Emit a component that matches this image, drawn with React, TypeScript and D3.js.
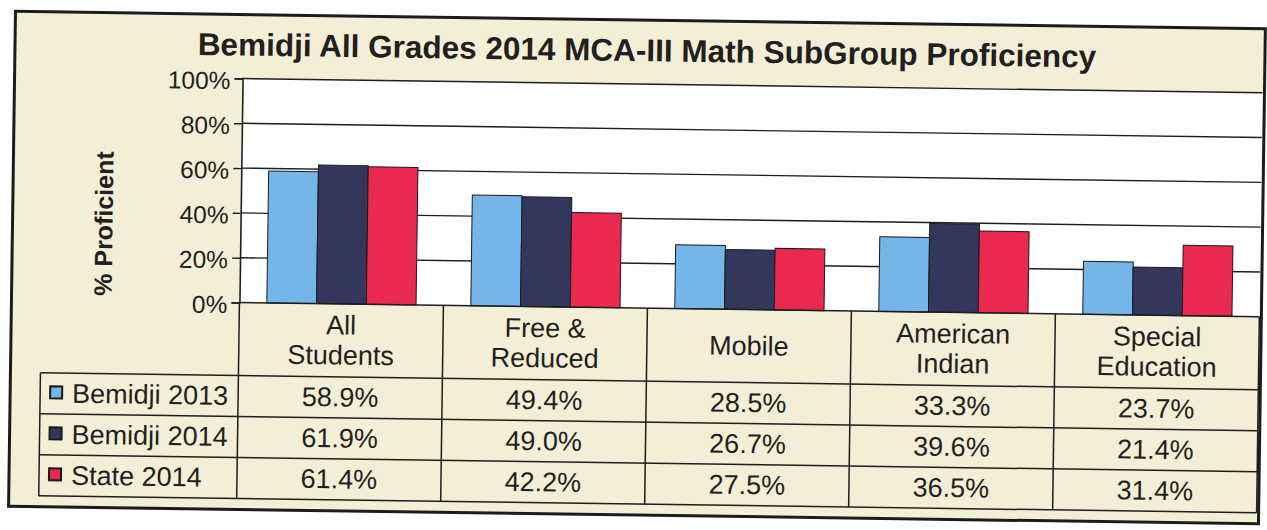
import React, { useEffect, useRef } from 'react';
import * as d3 from 'd3';

const CATEGORIES = [['All', 'Students'], ['Free &', 'Reduced'], ['Mobile'], ['American', 'Indian'], ['Special', 'Education']];
const SERIES = ['Bemidji 2013', 'Bemidji 2014', 'State 2014'];
const BEMIDJI_2013 = [58.9, 49.4, 28.5, 33.3, 23.7];
const BEMIDJI_2014 = [61.9, 49.0, 26.7, 39.6, 21.4];
const STATE_2014 = [61.4, 42.2, 27.5, 36.5, 31.4];
const Y_TICKS = [0, 20, 40, 60, 80, 100];
const COLORS = ['#74b5ea', '#33375c', '#ea2950'];

const TITLE = 'Bemidji All Grades 2014 MCA-III Math SubGroup Proficiency';
const FONT = 'Arial, "Liberation Sans", sans-serif';

const App = () => {
  const ref = useRef<SVGSVGElement>(null);

  useEffect(() => {
    const W = 1267, H = 530;
    const svg = d3.select(ref.current);
    svg.selectAll('*').remove();
    svg.append('rect').attr('width', W).attr('height', H).attr('fill', '#ffffff');

    // scanned page is a bit tilted
    const root = svg.append('g').attr('transform', `rotate(0.8, ${W / 2}, ${H / 2})`);

    const box = { left: 12, top: 20, right: 1262, bottom: 515 };
    root.append('rect')
      .attr('x', box.left).attr('y', box.top)
      .attr('width', box.right - box.left).attr('height', box.bottom - box.top)
      .attr('fill', '#f3eed6').attr('stroke', '#1c1c1c').attr('stroke-width', 3);

    const plot = { left: 240, right: 1260, top: 84, bottom: 308 };
    const rows = { top: 381, h: 41, legendLeft: 42 };

    // title, one text per word so each piece follows the tilt
    const titleStyle = (sel: any) => sel
      .attr('font-family', FONT).attr('font-weight', 'bold').attr('font-size', 31.5)
      .attr('fill', '#231f20');
    const probe = titleStyle(root.append('text')).attr('visibility', 'hidden');
    const measure = (s: string) => {
      probe.text(s);
      return (probe.node() as SVGTextElement).getComputedTextLength();
    };
    const words = TITLE.split(' ');
    const start = 644 - measure(TITLE) / 2;
    words.forEach((w, i) => {
      const offset = measure(words.slice(0, i + 1).join(' ')) - measure(w);
      titleStyle(root.append('text'))
        .attr('x', start + offset).attr('y', 61)
        .text(w);
    });
    probe.remove();

    const keys = CATEGORIES.map((c) => c.join(' '));
    const x0 = d3.scaleBand().domain(keys).range([plot.left, plot.right]).paddingInner(0).paddingOuter(0);
    const x1 = d3.scaleBand().domain(SERIES).range([0, x0.bandwidth()]).paddingInner(0).paddingOuter(0.55);
    const y = d3.scaleLinear().domain([0, 100]).range([plot.bottom, plot.top]);

    root.append('rect')
      .attr('x', plot.left).attr('y', plot.top)
      .attr('width', plot.right - plot.left).attr('height', plot.bottom - plot.top)
      .attr('fill', '#ffffff');

    // gridlines
    root.append('g').selectAll('line').data(Y_TICKS.slice(1)).enter().append('line')
      .attr('x1', plot.left).attr('x2', plot.right)
      .attr('y1', (d) => y(d)).attr('y2', (d) => y(d))
      .attr('stroke', '#1e1e1e').attr('stroke-width', 1.4);

    // bars
    const values = [BEMIDJI_2013, BEMIDJI_2014, STATE_2014];
    const data = keys.flatMap((k, i) => SERIES.map((s, j) => ({ k, s, j, v: values[j][i] })));
    root.append('g').selectAll('rect').data(data).enter().append('rect')
      .attr('x', (d) => (x0(d.k) as number) + (x1(d.s) as number))
      .attr('y', (d) => y(d.v))
      .attr('width', x1.bandwidth())
      .attr('height', (d) => y(0) - y(d.v))
      .attr('fill', (d) => COLORS[d.j])
      .attr('stroke', '#1a1a1a').attr('stroke-width', 1);

    // y axis
    const yAxis = root.append('g').attr('transform', `translate(${plot.left},0)`)
      .call(d3.axisLeft(y).tickValues(Y_TICKS).tickSize(8).tickFormat((d) => `${d}%`));
    yAxis.select('.domain').attr('stroke', '#1e1e1e').attr('stroke-width', 1.6);
    yAxis.selectAll('.tick line').attr('stroke', '#1e1e1e').attr('stroke-width', 1.4);
    yAxis.selectAll('.tick text')
      .attr('font-family', FONT).attr('font-size', 24.5).attr('fill', '#231f20').attr('x', -12).attr('dy', '0.42em');

    root.append('text')
      .attr('transform', `translate(112,231) rotate(-90)`)
      .attr('text-anchor', 'middle')
      .attr('font-family', FONT).attr('font-weight', 'bold').attr('font-size', 25)
      .attr('fill', '#231f20')
      .text('% Proficient');

    // data table
    const tableBottom = rows.top + rows.h * SERIES.length;
    const line = (x1v: number, y1v: number, x2v: number, y2v: number) =>
      root.append('line').attr('x1', x1v).attr('y1', y1v).attr('x2', x2v).attr('y2', y2v)
        .attr('stroke', '#1e1e1e').attr('stroke-width', 1.5);

    line(plot.left, plot.bottom, plot.right, plot.bottom);
    keys.forEach((k) => line(x0(k) as number, plot.bottom, x0(k) as number, tableBottom));
    line(plot.right, plot.bottom, plot.right, tableBottom);
    line(rows.legendLeft, rows.top, rows.legendLeft, tableBottom);
    d3.range(SERIES.length + 1).forEach((i) =>
      line(rows.legendLeft, rows.top + i * rows.h, plot.right, rows.top + i * rows.h));

    // category labels
    CATEGORIES.forEach((lines, i) => {
      const cx = (x0(keys[i]) as number) + x0.bandwidth() / 2;
      const cy = (plot.bottom + rows.top) / 2;
      const t = root.append('text')
        .attr('text-anchor', 'middle')
        .attr('font-family', FONT).attr('font-size', 27).attr('fill', '#231f20');
      lines.forEach((s, li) => {
        t.append('tspan')
          .attr('x', cx)
          .attr('y', cy + (li - (lines.length - 1) / 2) * 30 + 9)
          .text(s);
      });
    });

    // legend + values
    SERIES.forEach((s, j) => {
      const cy = rows.top + rows.h * j + rows.h / 2;
      root.append('rect')
        .attr('x', rows.legendLeft + 10).attr('y', cy - 7).attr('width', 12).attr('height', 12)
        .attr('fill', COLORS[j]).attr('stroke', '#1a1a1a').attr('stroke-width', 2);
      root.append('text')
        .attr('x', rows.legendLeft + 32).attr('y', cy + 9)
        .attr('font-family', FONT).attr('font-size', 27).attr('fill', '#231f20')
        .text(s);
      keys.forEach((k, i) => {
        root.append('text')
          .attr('x', (x0(k) as number) + x0.bandwidth() / 2).attr('y', cy + 9)
          .attr('text-anchor', 'middle')
          .attr('font-family', FONT).attr('font-size', 27).attr('fill', '#231f20')
          .text(`${values[j][i].toFixed(1)}%`);
      });
    });
  }, []);

  return (
    <div style={{ position: 'absolute', left: 0, top: 0 }}>
      <svg ref={ref} width={1267} height={530} style={{ display: 'block' }} />
    </div>
  );
};

export default App;
